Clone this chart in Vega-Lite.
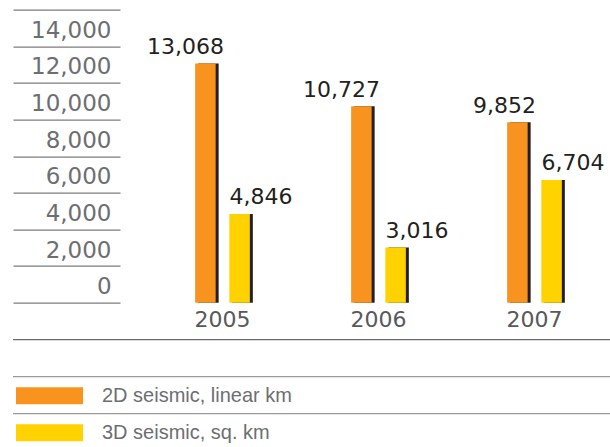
{
  "$schema": "https://vega.github.io/schema/vega-lite/v6.json",
  "background": "white",
  "padding": {"left": 12, "top": 8.7, "right": 0, "bottom": 0},
  "bounds": "flush",
  "spacing": 37,
  "config": {"view": {"stroke": null}},
  "datasets": {
    "survey": [
      {"year": "2005", "series": "2D seismic, linear km", "value": 13068},
      {"year": "2005", "series": "3D seismic, sq. km", "value": 4846},
      {"year": "2006", "series": "2D seismic, linear km", "value": 10727},
      {"year": "2006", "series": "3D seismic, sq. km", "value": 3016},
      {"year": "2007", "series": "2D seismic, linear km", "value": 9852},
      {"year": "2007", "series": "3D seismic, sq. km", "value": 6704}
    ],
    "rows": [
      {"row": "header"},
      {"row": "2D seismic, linear km"},
      {"row": "3D seismic, sq. km"}
    ]
  },
  "vconcat": [
    {
      "width": 598,
      "height": 293,
      "data": {"name": "survey"},
      "encoding": {
        "x": {
          "field": "year",
          "type": "nominal",
          "scale": {"paddingInner": 0.5615, "paddingOuter": 0.6974, "align": 0.8056},
          "axis": {
            "title": null,
            "domain": false,
            "ticks": false,
            "labelAngle": 0,
            "labelPadding": 7,
            "labelFont": "DejaVu Sans",
            "labelFontSize": 22,
            "labelColor": "#58595b"
          }
        },
        "xOffset": {"field": "series", "type": "nominal"},
        "y": {
          "field": "value",
          "type": "quantitative",
          "scale": {"domain": [0, 16000], "nice": false},
          "axis": {
            "title": null,
            "values": [0, 2000, 4000, 6000, 8000, 10000, 12000, 14000, 16000],
            "format": ",.0f",
            "labelExpr": "datum.value >= 16000 ? '' : datum.label",
            "domain": false,
            "grid": false,
            "ticks": true,
            "tickSize": -107,
            "tickColor": "#7d7d7d",
            "tickWidth": 1.3,
            "labelPadding": 9,
            "labelOffset": {"condition": {"test": "datum.value >= 16000", "value": 16}, "value": -16},
            "labelFlush": false,
            "labelOverlap": false,
            "labelFont": "DejaVu Sans",
            "labelFontSize": 23,
            "labelColor": "#6d6e71"
          }
        }
      },
      "layer": [
        {
          "mark": {"type": "bar", "size": 20.5, "color": "#231f20"},
          "encoding": {
            "xOffset": {
              "field": "series",
              "type": "nominal",
              "scale": {"paddingInner": 0.1754, "paddingOuter": 0.0877, "align": 1}
            }
          }
        },
        {
          "mark": {"type": "bar", "size": 20.5},
          "encoding": {
            "xOffset": {
              "field": "series",
              "type": "nominal",
              "scale": {"paddingInner": 0, "paddingOuter": 0}
            },
            "color": {
              "field": "series",
              "type": "nominal",
              "scale": {"range": ["#f7931e", "#ffd200"]},
              "legend": {
                "title": null,
                "orient": "none",
                "legendX": 3,
                "legendY": 374,
                "padding": 0,
                "clipHeight": 24,
                "symbolType": "M-1,-0.2537H1V0.2537H-1Z",
                "symbolSize": 4489,
                "symbolStrokeWidth": 0,
                "symbolOpacity": 1,
                "labelFont": "Liberation Sans",
                "labelFontSize": 20,
                "labelColor": "#6d6e71",
                "labelOffset": 19,
                "labelLimit": 0,
                "rowPadding": 13
              }
            }
          }
        },
        {
          "transform": [{"filter": "datum.series === '2D seismic, linear km'"}],
          "mark": {
            "type": "text",
            "align": "right",
            "baseline": "alphabetic",
            "dx": 18.5,
            "dy": -9.5,
            "font": "DejaVu Sans",
            "fontSize": 22,
            "color": "#231f20"
          },
          "encoding": {
            "xOffset": {
              "field": "series",
              "type": "nominal",
              "scale": {
                "type": "band",
                "domain": ["2D seismic, linear km", "3D seismic, sq. km"],
                "paddingInner": 0,
                "paddingOuter": 0
              }
            },
            "text": {"field": "value", "type": "quantitative", "format": ","}
          }
        },
        {
          "transform": [{"filter": "datum.series === '3D seismic, sq. km'"}],
          "mark": {
            "type": "text",
            "align": "left",
            "baseline": "alphabetic",
            "dx": -10,
            "dy": -9.5,
            "font": "DejaVu Sans",
            "fontSize": 22,
            "color": "#231f20"
          },
          "encoding": {
            "xOffset": {
              "field": "series",
              "type": "nominal",
              "scale": {
                "type": "band",
                "domain": ["2D seismic, linear km", "3D seismic, sq. km"],
                "paddingInner": 0,
                "paddingOuter": 0
              }
            },
            "text": {"field": "value", "type": "quantitative", "format": ","}
          }
        }
      ],
      "resolve": {"scale": {"xOffset": "independent"}}
    },
    {
      "width": 598,
      "height": 111,
      "data": {"name": "rows"},
      "mark": {"type": "rule", "strokeWidth": 1.3},
      "encoding": {
        "y": {
          "field": "row",
          "type": "nominal",
          "sort": null,
          "bandPosition": 0,
          "axis": null,
          "scale": {"type": "band", "paddingInner": 0, "paddingOuter": 0}
        },
        "color": {
          "condition": {"test": "datum.row === 'header'", "value": "#6a6a6a"},
          "value": "#9a9a9a"
        }
      }
    }
  ]
}
